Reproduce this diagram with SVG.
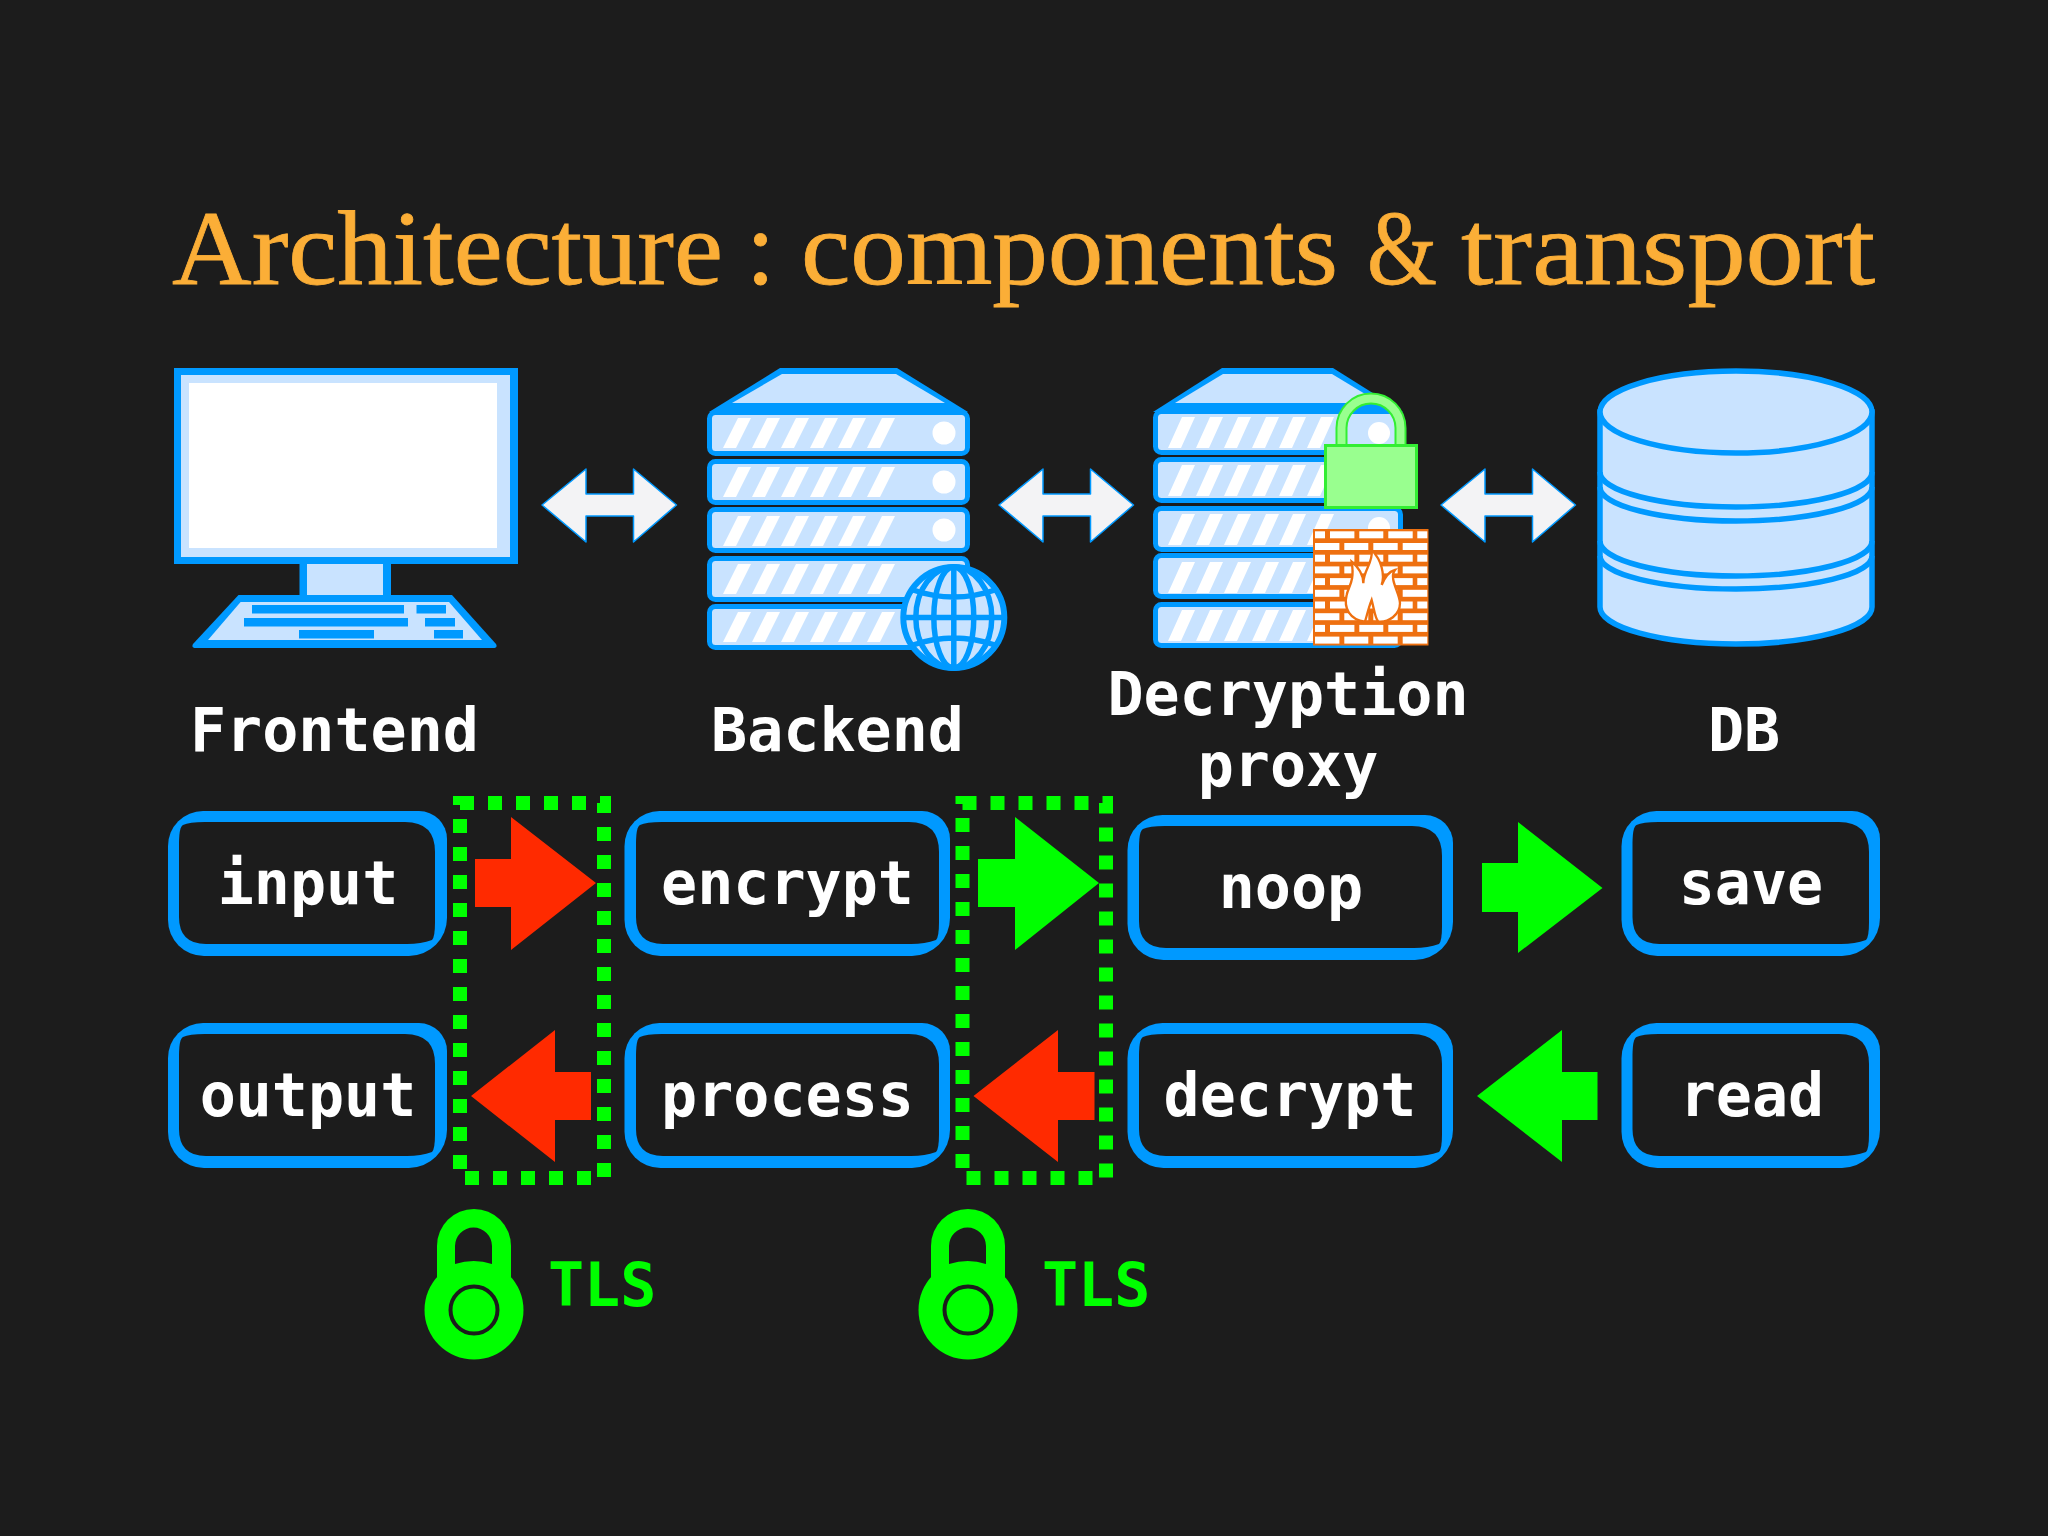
<svg xmlns="http://www.w3.org/2000/svg" width="2048" height="1536" viewBox="0 0 2048 1536">
<style>
.mono{font-family:"DejaVu Sans Mono","Liberation Mono",monospace;font-weight:700;font-size:60px;fill:#fff;text-anchor:middle}
.title{font-family:"Liberation Serif","DejaVu Serif",serif;font-size:105px;fill:#fbae37;stroke:#fbae37;stroke-width:.8}
.tls{font-family:"DejaVu Sans Mono","Liberation Mono",monospace;font-weight:700;font-size:60px;fill:#00ff00}
.lt{fill:#c9e3ff}
.bl{fill:#0099ff}
.rack{fill:#c9e3ff;stroke:#0099ff;stroke-width:5}
.wh{fill:#fff}
.ln{fill:none;stroke:#0099ff}
.box{fill:#0099ff}
.inner{fill:#1c1c1c}
.dots{fill:none;stroke:#00ff00;stroke-width:14;stroke-dasharray:14 14}
.dbl{fill:#f3f3f5;stroke:#0099ff;stroke-width:1.5;stroke-linejoin:round}
.red{fill:#ff2a00}
.grn{fill:#00ff00}
.brick{fill:#fff}
</style>
<defs>
<path id="slashes" class="wh" d="M15,0H28L13,30H0ZM44,0H57L42,30H29ZM73,0H86L71,30H58ZM102,0H115L100,30H87ZM130,0H143L128,30H115ZM159,0H172L157,30H144Z"/>
<path id="slashes2" class="wh" d="M14,0H27L13,31H0ZM42,0H55L41,31H28ZM70,0H83L69,31H56ZM98,0H111L97,31H84ZM125,0H138L124,31H111ZM153,0H166L152,31H139Z"/>
<polygon id="dblarrow" class="dbl" points="542,505 586,469 586,494 633.5,494 633.5,469 676.5,505 633.5,542 633.5,516 586,516 586,542"/>
<g id="bricksA"><rect x="15" y="0" width="10" height="7"/><rect x="30" y="0" width="24.4" height="7"/><rect x="59.300" y="0" width="24" height="7"/><rect x="88.300" y="0" width="24.400" height="7"/><rect x="117.300" y="0" width="10" height="7"/></g>
<g id="bricksB"><rect x="15" y="0" width="24.400" height="7"/><rect x="44.300" y="0" width="24" height="7"/><rect x="73.300" y="0" width="24.400" height="7"/><rect x="102.700" y="0" width="24.600" height="7"/></g>
<path id="o3" class="box" d="M0,35A35,35 0 0 1 35,0H251A28,28 0 0 1 279,28V107A38,38 0 0 1 241,145H36A36,36 0 0 1 0,109Z"/>
<path id="i3" class="inner" d="M11,33Q11,16 15,14Q21,11 37,11H237Q267,11 267,41V111Q267,126 264,129Q253,133 239,133H38Q11,133 11,106Z"/>
<path id="o4" class="box" d="M0,35A35,35 0 0 1 35,0H297.500A28,28 0 0 1 325.500,28V107A38,38 0 0 1 287.500,145H36A36,36 0 0 1 0,109Z"/>
<path id="i4" class="inner" d="M11.500,33Q11.500,16 15.500,14Q21.500,11 37.500,11H284.500Q314.500,11 314.500,41V111Q314.500,126 311.500,129Q300.500,133 286.500,133H38.500Q11.500,133 11.500,106Z"/>
<path id="o5" class="box" d="M0,35A35,35 0 0 1 35,0H230.500A28,28 0 0 1 258.500,28V107A38,38 0 0 1 220.500,145H36A36,36 0 0 1 0,109Z"/>
<path id="i5" class="inner" d="M11,33Q11,16 15,14Q21,11 37,11H217.500Q247.500,11 247.500,41V111Q247.500,126 244.500,129Q233.500,133 219.500,133H38Q11,133 11,106Z"/>
<g id="lockshape">
<circle cx="474" cy="1310" r="49.500" class="grn"/>
<path class="grn" d="M437,1300V1246A37,37 0 0 1 511,1246V1300Z"/>
<path class="inner" d="M455,1264V1246A18.500,18.500 0 0 1 492,1246V1264Q474,1258 455,1264Z"/>
<circle cx="474" cy="1310" r="23.500" fill="none" stroke="#1c1c1c" stroke-width="4"/>
</g>
</defs>
<rect width="2048" height="1536" fill="#1c1c1c"/>
<text class="title" y="284"><tspan x="172" textLength="551" lengthAdjust="spacingAndGlyphs">Architecture</tspan> <tspan x="746">:</tspan> <tspan x="801" textLength="537" lengthAdjust="spacingAndGlyphs">components</tspan> <tspan x="1367" textLength="70" lengthAdjust="spacingAndGlyphs">&amp;</tspan> <tspan x="1461" textLength="414" lengthAdjust="spacingAndGlyphs">transport</tspan></text>

<g id="frontend">
<rect x="299.500" y="555" width="91.500" height="45" class="bl"/>
<rect x="307" y="560" width="76" height="36" class="lt"/>
<rect x="174" y="368" width="344" height="196" class="bl"/>
<rect x="181" y="375" width="329" height="182" class="lt"/>
<rect x="189" y="383" width="308" height="165" class="wh"/>
<path class="bl" d="M238.500,595H452L496,644Q498,648 493,648H196Q191,648 193,644Z"/>
<polygon class="lt" points="240.600,602 449,602 482,640 208,640"/>
<rect x="252" y="605" width="152" height="8.500" class="bl"/><rect x="416.500" y="605" width="29.500" height="8.500" class="bl"/>
<rect x="244" y="618" width="164" height="8.500" class="bl"/><rect x="425" y="618" width="30" height="8.500" class="bl"/>
<rect x="299" y="630" width="75" height="8.500" class="bl"/><rect x="434" y="630" width="29" height="8.500" class="bl"/>
<text class="mono" x="334.500" y="751">Frontend</text>
</g>

<g id="backend">
<path class="bl" d="M780,368H897L968,412H709Z"/>
<polygon class="lt" points="782,374 896,374 945,403 732,403"/>
<rect class="rack" x="709.500" y="412.500" width="258" height="41" rx="6"/>
<rect class="rack" x="709.500" y="461.500" width="258" height="41" rx="6"/>
<rect class="rack" x="709.500" y="509.500" width="258" height="41" rx="6"/>
<rect class="rack" x="709.500" y="558.500" width="258" height="41" rx="6"/>
<rect class="rack" x="709.500" y="606.500" width="258" height="41" rx="6"/>
<use href="#slashes" x="723" y="418"/><use href="#slashes" x="723" y="467"/><use href="#slashes" x="723" y="516"/><use href="#slashes" x="723" y="564"/><use href="#slashes" x="723" y="612"/>
<circle cx="944" cy="433" r="11.500" class="wh"/><circle cx="944" cy="482" r="11.500" class="wh"/><circle cx="944" cy="530" r="11.500" class="wh"/>
<g id="globe">
<circle cx="953.800" cy="617.500" r="50.500" class="lt" stroke="#0099ff" stroke-width="6"/>
<g class="ln" stroke-width="5.500">
<path d="M953.800,567V668M903,617.500H1004M913,590Q953.800,604 995,590M913,645Q953.800,631 995,645"/>
<ellipse cx="953.800" cy="617.500" rx="20" ry="50.500"/>
<ellipse cx="953.800" cy="617.500" rx="38" ry="50.500"/>
</g>
</g>
<text class="mono" x="837.500" y="751">Backend</text>
</g>

<g id="proxy">
<path class="bl" d="M1222,368H1333L1403,412H1153Z"/>
<polygon class="lt" points="1223,374 1332,374 1380,403 1175,403"/>
<rect class="rack" x="1155.500" y="411.500" width="245" height="41" rx="6"/>
<rect class="rack" x="1155.500" y="459.500" width="245" height="41" rx="6"/>
<rect class="rack" x="1155.500" y="508.500" width="245" height="41" rx="6"/>
<rect class="rack" x="1155.500" y="555.500" width="245" height="41" rx="6"/>
<rect class="rack" x="1155.500" y="604.500" width="245" height="41" rx="6"/>
<use href="#slashes2" x="1168" y="417"/><use href="#slashes2" x="1168" y="465"/><use href="#slashes2" x="1168" y="514"/><use href="#slashes2" x="1168" y="562"/><use href="#slashes2" x="1168" y="610"/>
<circle cx="1379" cy="433" r="11" class="wh"/><circle cx="1379" cy="528" r="11" class="wh"/>
<g id="padlock">
<path d="M1341.500,447V428A29.500,29.500 0 0 1 1400.500,428V447" fill="none" stroke="#33ee33" stroke-width="12"/>
<path d="M1341.500,447V428A29.500,29.500 0 0 1 1400.500,428V447" fill="none" stroke="#99ff8f" stroke-width="8"/>
<rect x="1325.500" y="445.500" width="91" height="62" fill="#99ff8f" stroke="#33ee33" stroke-width="3"/>
</g>
<g id="firewall">
<rect x="1313" y="529" width="115.500" height="116.500" fill="#ee7010"/>
<g class="brick" transform="translate(1300,531.300)">
<use href="#bricksA" y="0"/><use href="#bricksB" y="11.700"/><use href="#bricksA" y="23.400"/><use href="#bricksB" y="35.100"/><use href="#bricksA" y="46.800"/><use href="#bricksB" y="58.500"/><use href="#bricksA" y="70.200"/><use href="#bricksB" y="81.900"/><use href="#bricksA" y="93.600"/><use href="#bricksB" y="105.300"/>
</g>
<path transform="translate(1300,520) scale(.3333)" fill="#fff" stroke="#ee7010" stroke-width="7" d="M195,305C150,300 130,265 140,225C145,200 165,185 155,125C185,150 190,175 190,190C190,150 220,130 215,90C245,120 255,165 245,195C255,170 265,155 285,150C265,175 300,220 300,250C300,285 265,308 235,305C225,295 222,265 215,240C205,265 200,290 195,305Z"/>
</g>
<text class="mono" x="1288" y="715">Decryption</text>
<text class="mono" x="1288" y="786">proxy</text>
</g>

<g id="db">
<path class="lt" stroke="#0099ff" stroke-width="5.500" d="M1600,412V607A136,37 0 0 0 1872,607V412Z"/>
<ellipse cx="1736" cy="412" rx="136" ry="41" class="lt" stroke="#0099ff" stroke-width="5.500"/>
<g class="ln" stroke-width="5.500">
<path d="M1600,472A136,35 0 0 0 1872,472"/>
<path d="M1600,487A136,34 0 0 0 1872,487"/>
<path d="M1600,541A136,35 0 0 0 1872,541"/>
<path d="M1600,556A136,33 0 0 0 1872,556"/>
</g>
<text class="mono" x="1744" y="751">DB</text>
</g>

<g id="connectors">
<use href="#dblarrow"/><use href="#dblarrow" x="457"/><use href="#dblarrow" x="899"/>
<polygon class="red" points="475,859 511,859 511,817 596,883 511,950 511,907 475,907"/>
<polygon class="red" points="471,1096 555,1030 555,1072 591,1072 591,1120 555,1120 555,1162"/>
<polygon class="grn" points="978,859 1015,859 1015,817 1099,883 1015,950 1015,907 978,907"/>
<polygon class="red" points="973.500,1096 1058,1030 1058,1072 1094.500,1072 1094.500,1120 1058,1120 1058,1162"/>
<polygon class="grn" points="1482,863 1518,863 1518,822 1602.500,888 1518,953 1518,912 1482,912"/>
<polygon class="grn" points="1477,1096 1562,1030 1562,1072 1597.500,1072 1597.500,1120 1562,1120 1562,1162"/>
</g>

<g id="tls-zones">
<rect class="dots" x="460" y="803" width="144" height="375"/>
<rect class="dots" x="962.500" y="803" width="143.500" height="375"/>
</g>

<g id="input"><use href="#o3" x="168" y="811"/><use href="#i3" x="168" y="811"/><text class="mono" x="308" y="904">input</text></g>
<g id="output"><use href="#o3" x="168" y="1023"/><use href="#i3" x="168" y="1023"/><text class="mono" x="308" y="1116">output</text></g>
<g id="encrypt"><use href="#o4" x="624.500" y="811"/><use href="#i4" x="624.500" y="811"/><text class="mono" x="787.500" y="904">encrypt</text></g>
<g id="process"><use href="#o4" x="624.500" y="1023"/><use href="#i4" x="624.500" y="1023"/><text class="mono" x="787.500" y="1116">process</text></g>
<g id="noop"><use href="#o4" x="1127.500" y="815"/><use href="#i4" x="1127.500" y="815"/><text class="mono" x="1291" y="908">noop</text></g>
<g id="decrypt"><use href="#o4" x="1127.500" y="1023"/><use href="#i4" x="1127.500" y="1023"/><text class="mono" x="1290" y="1116">decrypt</text></g>
<g id="save"><use href="#o5" x="1621.500" y="811"/><use href="#i5" x="1621.500" y="811"/><text class="mono" x="1751" y="904">save</text></g>
<g id="read"><use href="#o5" x="1621.500" y="1023"/><use href="#i5" x="1621.500" y="1023"/><text class="mono" x="1752" y="1116">read</text></g>

<g id="tls1"><use href="#lockshape"/><text class="tls" x="548" y="1306">TLS</text></g>
<g id="tls2"><use href="#lockshape" x="494"/><text class="tls" x="1042" y="1306">TLS</text></g>
</svg>
